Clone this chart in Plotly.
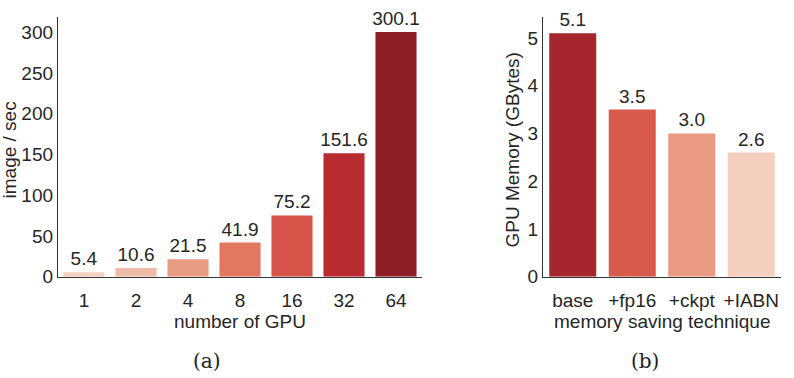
import plotly.graph_objects as go

gpu_labels = ["1", "2", "4", "8", "16", "32", "64"]
gpu_speed = [5.4, 10.6, 21.5, 41.9, 75.2, 151.6, 300.1]
gpu_colors = ["#f3d0c0", "#eebba6", "#e99c84", "#e3775f", "#d6544a", "#b82c31", "#8f1f26"]

mem_labels = ["base", "+fp16", "+ckpt", "+IABN"]
mem_values = [5.1, 3.5, 3.0, 2.6]
mem_colors = ["#a6262e", "#d85a4c", "#e99a80", "#f4cfbf"]

W, H = 794, 378
FONT = "Liberation Sans, Arial, sans-serif"
TXT = "#262626"
FS = 19

fig = go.Figure()
fig.add_trace(go.Bar(
    x=gpu_labels, y=gpu_speed, marker=dict(color=gpu_colors, line=dict(width=0)),
    text=[f"{v:.1f}" for v in gpu_speed], textposition="outside", cliponaxis=False,
    constraintext="none", textfont=dict(size=FS, color=TXT, family=FONT),
    xaxis="x", yaxis="y", showlegend=False))
fig.add_trace(go.Bar(
    x=mem_labels, y=mem_values, marker=dict(color=mem_colors, line=dict(width=0)),
    text=[f"{v:.1f}" for v in mem_values], textposition="outside", cliponaxis=False,
    constraintext="none", textfont=dict(size=FS, color=TXT, family=FONT),
    xaxis="x2", yaxis="y2", showlegend=False))

def px(x):
    return x / W

def py(y):
    return 1 - y / H

axis_common = dict(showgrid=False, zeroline=False, showline=True, linecolor="#333333",
                   linewidth=1.3, ticks="", tickfont=dict(size=FS, color=TXT, family=FONT))

fig.update_layout(
    width=W, height=H, margin=dict(l=0, r=0, t=0, b=0),
    paper_bgcolor="white", plot_bgcolor="white", bargap=0.21,
    font=dict(family=FONT, color=TXT),
    xaxis=dict(domain=[px(58), px(422)], anchor="y", range=[-0.5, 6.5], type="category",
               ticklabelstandoff=6, **axis_common),
    yaxis=dict(domain=[py(285), py(18)], anchor="x", range=[0, 318],
               tickvals=[0, 50, 100, 150, 200, 250, 300], **axis_common),
    xaxis2=dict(domain=[px(543), px(781)], anchor="y2", range=[-0.5, 3.5], type="category",
                ticklabelstandoff=6, **axis_common),
    yaxis2=dict(domain=[py(285), py(18)], anchor="x2", range=[0, 5.43],
                tickvals=[0, 1, 2, 3, 4, 5], **axis_common),
)

annos = [
    dict(text="number of GPU", x=px(240), y=py(331), textangle=0),
    dict(text="image / sec", x=px(9), y=py(155), textangle=-90),
    dict(text="memory saving technique", x=px(662), y=py(331), textangle=0),
    dict(text="GPU Memory (GBytes)", x=px(512), y=py(155), textangle=-90),
]
for a in annos:
    fig.add_annotation(text=a["text"], x=a["x"], y=a["y"], xref="paper", yref="paper",
                       xanchor="center", yanchor="middle", showarrow=False, textangle=a["textangle"],
                       font=dict(size=FS, color=TXT, family=FONT))

for cap, xc in [("(a)", 207), ("(b)", 645)]:
    fig.add_annotation(text=cap, x=px(xc), y=py(372), xref="paper", yref="paper",
                       xanchor="center", yanchor="middle", showarrow=False,
                       font=dict(size=20, color="#222222", family="DejaVu Serif, serif"))

fig.write_html("out.html")
